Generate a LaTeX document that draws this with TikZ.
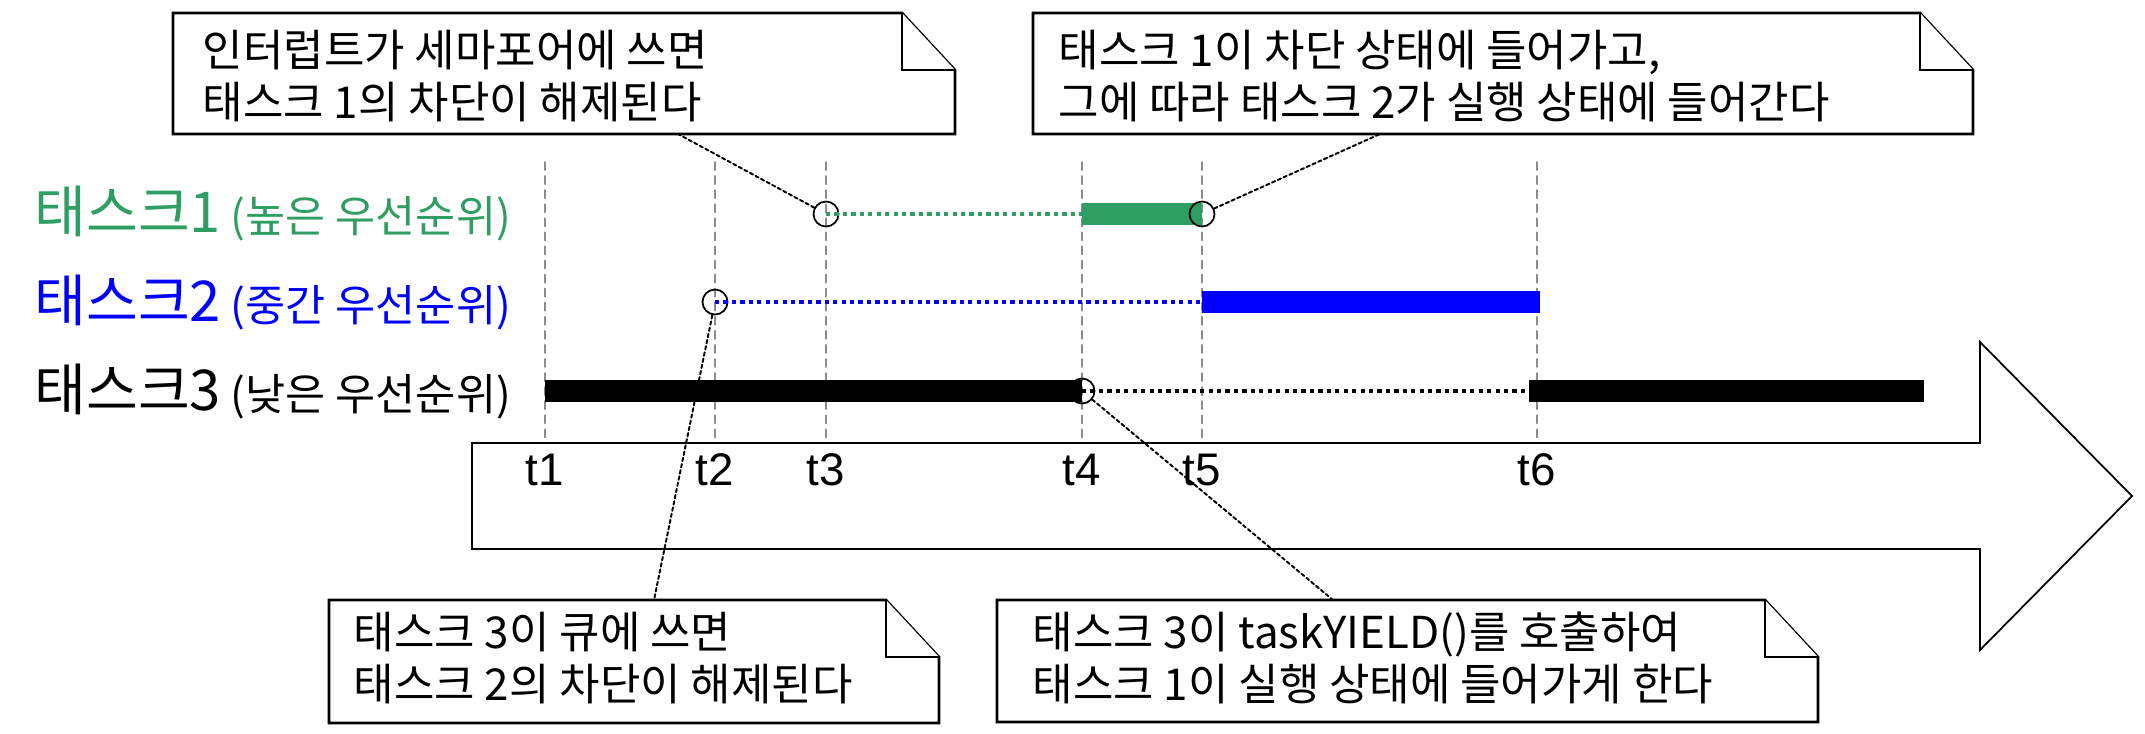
\documentclass[tikz,border=0pt]{standalone}
\usepackage{fontspec}
\setmainfont{Noto Sans CJK KR}
\newfontfamily\tfont{Liberation Sans}
\usetikzlibrary{positioning}
\definecolor{taakgroen}{RGB}{46,158,98}

% notitie met omgevouwen hoek
\newcommand{\notebox}[4]{%
  \filldraw[note] (#1,#2) -- (#3-53,#2) -- (#3,#2+57) -- (#3,#4) -- (#1,#4) -- cycle;
  \draw[note] (#3-53,#2) -- (#3-53,#2+57) -- (#3,#2+57);
}

\begin{document}
\begin{tikzpicture}[x=0.01cm, y=-0.01cm, line cap=round]
  \tikzset{note/.style={draw=black, line width=0.75pt, fill=white, line join=miter, line cap=butt},
    notetext/.style={font=\fontsize{12.5}{14.8}\selectfont, align=left, anchor=west, inner sep=0pt},
    tline/.style={draw=black!45, line width=0.5pt, dash pattern=on 2.3pt off 1.7pt},
    ring/.style={circle, draw=black, line width=0.5pt, minimum size=0.25cm, inner sep=0pt},
    wait/.style={line width=0.9pt, dash pattern=on 1.2pt off 1.2pt, line cap=butt},
    run/.style={line width=0.22cm, line cap=butt},
    leader/.style={line width=0.55pt, dash pattern=on 1pt off 0.8pt},
    tlabel/.style={font=\tfont\fontsize{13}{15}\selectfont, inner sep=0pt},
    tasklabel/.style={anchor=west, inner sep=0pt, font=\fontsize{12.4}{14}\selectfont}}
  \useasboundingbox (0,0) rectangle (2145,733);
  % 시간 화살표
  \draw[line width=0.5pt, fill=white, line join=miter] (472,443) -- (1980,443) -- (1980,342) -- (2132,496)
    -- (1980,650) -- (1980,549) -- (472,549) -- cycle;
  % 시각 t1..t6
  \foreach \n/\x in {1/545,2/715,3/826,4/1082,5/1202,6/1537} {
    \draw[tline] (\x,162) -- (\x,443);
    \node[tlabel] (t\n) at (\x,470) {t\n};
  }
  % 태스크 이름
  \node[tasklabel, text=taakgroen] (lab1) at (34,214) {{\fontsize{16}{18}\selectfont 태스크1} (높은 우선순위)};
  \node[tasklabel, text=blue] (lab2) at (34,302) {{\fontsize{16}{18}\selectfont 태스크2} (중간 우선순위)};
  \node[tasklabel] (lab3) at (34,391) {{\fontsize{16}{18}\selectfont 태스크3} (낮은 우선순위)};
  % 실행 구간
  \draw[run, taakgroen] (1082,214) -- (1202,214);
  \draw[run, blue] (1202,302) -- (1540,302);
  \draw[run] (545,391) -- (1082,391);
  \draw[run] (1529,391) -- (1924,391);
  % 대기 구간
  \node[ring] (c1) at (826,214) {};
  \node[ring] (c2) at (715,302) {};
  \node[ring] (c3) at (1082,391) {};
  \node[ring] (c4) at (1202,214) {};
  \coordinate (w1) at (1082,214);
  \coordinate (w2) at (1202,302);
  \coordinate (w3) at (1529,391);
  \draw[wait, taakgroen] (c1.center) -- (w1);
  \draw[wait, blue] (c2.center) -- (w2);
  \draw[wait] (c3.center) -- (w3);
  % 설명선
  \coordinate (p1) at (678,134);
  \coordinate (p2) at (1380,134);
  \coordinate (p3) at (654,600);
  \coordinate (p4) at (1333,600);
  \draw[leader] (c1) -- (p1);
  \draw[leader] (c4) -- (p2);
  \draw[leader] (c2) -- (p3);
  \draw[leader] (c3) -- (p4);
  % 메모
  \notebox{173}{13}{955}{134}
  \notebox{1033}{13}{1973}{134}
  \notebox{329}{600}{939}{723}
  \notebox{997}{600}{1818}{722}
  \node[notetext] (n1) at (202,76) {인터럽트가 세마포어에 쓰면\\태스크 1의 차단이 해제된다};
  \node[notetext] (n2) at (1058,76) {태스크 1이 차단 상태에 들어가고,\\그에 따라 태스크 2가 실행 상태에 들어간다};
  \node[notetext] (n3) at (353,658) {태스크 3이 큐에 쓰면\\태스크 2의 차단이 해제된다};
  \node[notetext] (n4) at (1032,658) {태스크 3이 taskYIELD()를 호출하여\\태스크 1이 실행 상태에 들어가게 한다};
\end{tikzpicture}
\end{document}
